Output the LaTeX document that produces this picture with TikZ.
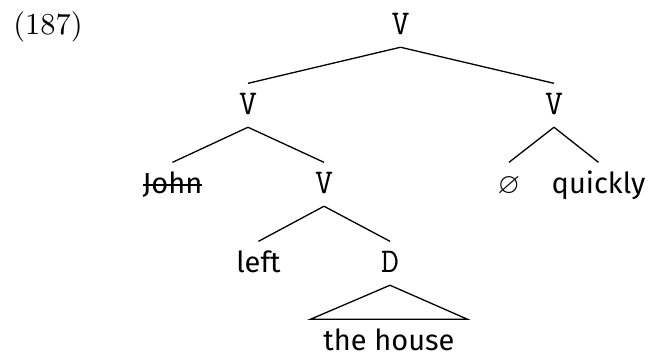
\documentclass[tikz,border=0pt]{standalone}
\usepackage{fontspec}
\usepackage{amssymb}
\setsansfont{Fira Sans}
\newcommand\struck[1]{\setbox0\hbox{#1}\rlap{\rule[.55ex]{\wd0}{0.5pt}}\box0}

\begin{document}
\begin{tikzpicture}[x=0.345pt,y=-0.345pt,line width=0.45pt,
  lbl/.style={anchor=base,inner sep=0pt,text height=10.7pt,text depth=4pt},
  cat/.style={lbl,font=\fontsize{12}{14}\selectfont\ttfamily},
  wrd/.style={lbl,font=\sffamily}]
  \useasboundingbox (0,0) rectangle (651,356);
  \node[anchor=base,font=\fontsize{10.5}{12}\selectfont] (ex) at (48,35) {(187)};
  % categories
  \node[cat] (vtop) at (400.5,35) {V};
  \node[cat] (vleft) at (248,115) {V};
  \node[cat] (vright) at (554,115) {V};
  \node[cat] (vin) at (324,194) {V};
  \node[cat] (dobj) at (390,273) {D};
  % words
  \node[wrd] (john) at (172.5,194) {\struck{John}};
  \node[wrd] (null) at (509,194) {$\varnothing$};
  \node[wrd] (quickly) at (598.5,194) {quickly};
  \node[wrd] (left) at (258.5,273) {left};
  \node[wrd,inner xsep=4.3pt] (house) at (389,351) {the house};
  % branches
  \draw (vtop.south) -- (vleft.north);
  \draw (vtop.south) -- (vright.north);
  \draw (vleft.south) -- (john.north);
  \draw (vleft.south) -- (vin.north);
  \draw (vright.south) -- (null.north);
  \draw (vright.south) -- (quickly.north);
  \draw (vin.south) -- (left.north);
  \draw (vin.south) -- (dobj.north);
  \draw (dobj.south) -- (house.north west) -- (house.north east) -- cycle;
\end{tikzpicture}
\end{document}
